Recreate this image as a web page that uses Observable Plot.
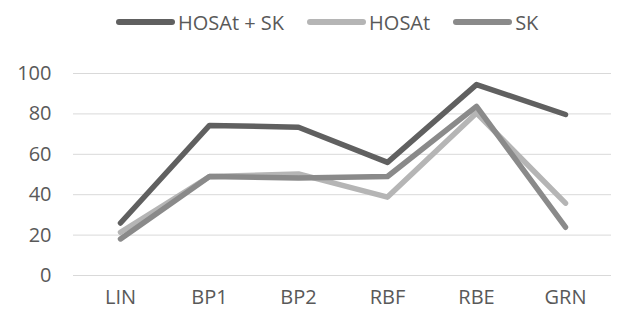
<!DOCTYPE html>
<html>
<head>
<meta charset="utf-8">
<script src="https://cdn.jsdelivr.net/npm/d3@7"></script>
<script src="https://cdn.jsdelivr.net/npm/@observablehq/plot@0.6"></script>
<style>
  html, body { margin: 0; padding: 0; background: #fff; }
  body { width: 630px; height: 315px; overflow: hidden; font-family: "Open Sans", "Liberation Sans", sans-serif; }
  #legend { height: 44px; display: flex; justify-content: flex-start; align-items: center; gap: 22px; color: #595959; font-size: 20px; padding-left: 115px; box-sizing: border-box; }
  #legend .item { display: flex; align-items: center; }
  #legend svg { margin-right: 2px; }
</style>
</head>
<body>
<div id="legend"></div>
<div id="chart"></div>
<script>
const categories = ["LIN", "BP1", "BP2", "RBF", "RBE", "GRN"];
const seriesNames = ["HOSAt + SK", "HOSAt", "SK"];
const seriesColors = ["#606060", "#b5b5b5", "#8a8a8a"];
const hosatSk = [26, 74.3, 73.4, 56, 94.5, 79.7];
const hosat = [21.4, 49, 50.3, 38.8, 80.4, 35.8];
const sk = [18.1, 49, 48.3, 49, 83.7, 23.9];
const yTicks = [0, 20, 40, 60, 80, 100];

const seriesValues = [hosatSk, hosat, sk];
const data = [];
seriesNames.forEach((s, si) => {
  categories.forEach((c, ci) => data.push({series: s, category: c, value: seriesValues[si][ci]}));
});

// legend
const legend = document.getElementById("legend");
seriesNames.forEach((s, i) => {
  const item = document.createElement("div");
  item.className = "item";
  item.innerHTML = `<svg width="61" height="10"><line x1="4" y1="5" x2="57" y2="5" stroke="${seriesColors[i]}" stroke-width="6" stroke-linecap="round"/></svg><span>${s}</span>`;
  legend.appendChild(item);
});

const chart = Plot.plot({
  width: 630,
  height: 271,
  marginLeft: 73,
  marginRight: 19,
  marginTop: 29,
  marginBottom: 40,
  style: {fontFamily: "'Open Sans', 'Liberation Sans', sans-serif", fontSize: "20px", color: "#595959", background: "#fff"},
  x: {type: "point", domain: categories, padding: 0.5, label: null},
  y: {domain: [0, 100], label: null},
  color: {domain: seriesNames, range: seriesColors},
  marks: [
    Plot.ruleY(yTicks, {stroke: "#d9d9d9", strokeWidth: 1}),
    Plot.axisY(yTicks, {tickSize: 0, tickPadding: 22, label: null, fill: "#595959", fontSize: 20}),
    Plot.axisX({tickSize: 0, tickPadding: 14, label: null, fill: "#595959", fontSize: 20}),
    Plot.line(data, {x: "category", y: "value", z: "series", stroke: "series", strokeWidth: 5.5, strokeLinecap: "round", strokeLinejoin: "round"})
  ]
});
document.getElementById("chart").appendChild(chart);
</script>
</body>
</html>
